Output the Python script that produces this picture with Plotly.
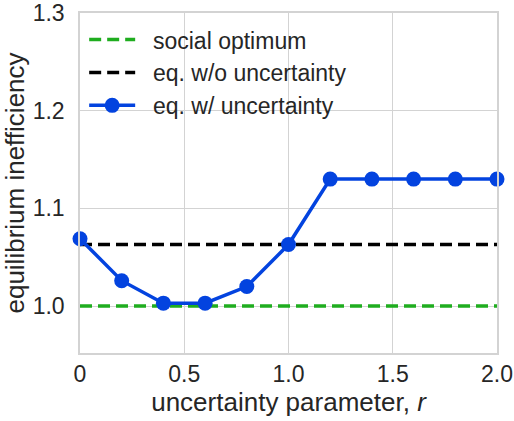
import plotly.graph_objects as go

r_values = [0.0, 0.2, 0.4, 0.6, 0.8, 1.0, 1.2, 1.4, 1.6, 1.8, 2.0]
eq_with_uncertainty = [1.069, 1.026, 1.003, 1.003, 1.020, 1.063, 1.130, 1.130, 1.130, 1.130, 1.130]
social_optimum = 1.0
eq_without_uncertainty = 1.063
x_ticks = [0, 0.5, 1.0, 1.5, 2.0]
x_tick_labels = ["0", "0.5", "1.0", "1.5", "2.0"]
y_ticks = [1.0, 1.1, 1.2, 1.3]
y_tick_labels = ["1.0", "1.1", "1.2", "1.3"]
legend_names = ["social optimum", "eq. w/o uncertainty", "eq. w/ uncertainty"]

FONT = "Liberation Sans, Arial, sans-serif"
PAD = "\u00a0\u00a0"

fig = go.Figure()
fig.add_trace(go.Scatter(
    x=[r_values[0], r_values[-1]], y=[social_optimum, social_optimum],
    mode="lines", name=PAD + legend_names[0],
    line=dict(color="#1fad1f", width=3.5, dash="12px,6px"), cliponaxis=False))
fig.add_trace(go.Scatter(
    x=[r_values[0], r_values[-1]], y=[eq_without_uncertainty, eq_without_uncertainty],
    mode="lines", name=PAD + legend_names[1],
    line=dict(color="black", width=3.5, dash="12px,6px"), cliponaxis=False))
fig.add_trace(go.Scatter(
    x=r_values, y=eq_with_uncertainty,
    mode="lines+markers", name=PAD + legend_names[2],
    line=dict(color="#0343df", width=3.5),
    marker=dict(color="#0343df", size=15), cliponaxis=False))

fig.update_layout(
    width=514, height=421,
    margin=dict(l=80, r=17, t=13, b=68),
    paper_bgcolor="white", plot_bgcolor="white",
    font=dict(family=FONT, color="#262626", size=23),
    showlegend=True,
    legend=dict(x=0.01, y=0.985, xanchor="left", yanchor="top",
                bgcolor="rgba(0,0,0,0)", font=dict(size=23, family=FONT, color="#262626"),
                tracegroupgap=0, itemwidth=46),
    xaxis=dict(range=[0, 2.0], tickvals=x_ticks, ticktext=x_tick_labels,
               showgrid=True, gridcolor="#d3d3d3", gridwidth=1.2, automargin=False,
               zeroline=False, showline=True, linecolor="#d3d3d3", linewidth=1.5, mirror=True,
               ticks="", ticklabelstandoff=0,
               title=dict(text="uncertainty parameter, <i>r</i>", font=dict(size=26), standoff=0)),
    yaxis=dict(range=[0.952, 1.3], tickvals=y_ticks, ticktext=y_tick_labels,
               showgrid=True, gridcolor="#d3d3d3", gridwidth=1.2, automargin=False,
               zeroline=False, showline=True, linecolor="#d3d3d3", linewidth=1.5, mirror=True,
               ticks="", ticklabelstandoff=9,
               title=dict(text="equilibrium inefficiency", font=dict(size=26), standoff=2)),
)

fig.write_html("out.html", config={"displayModeBar": False},
               post_script="document.body.style.margin='0';document.body.style.overflow='hidden';")
